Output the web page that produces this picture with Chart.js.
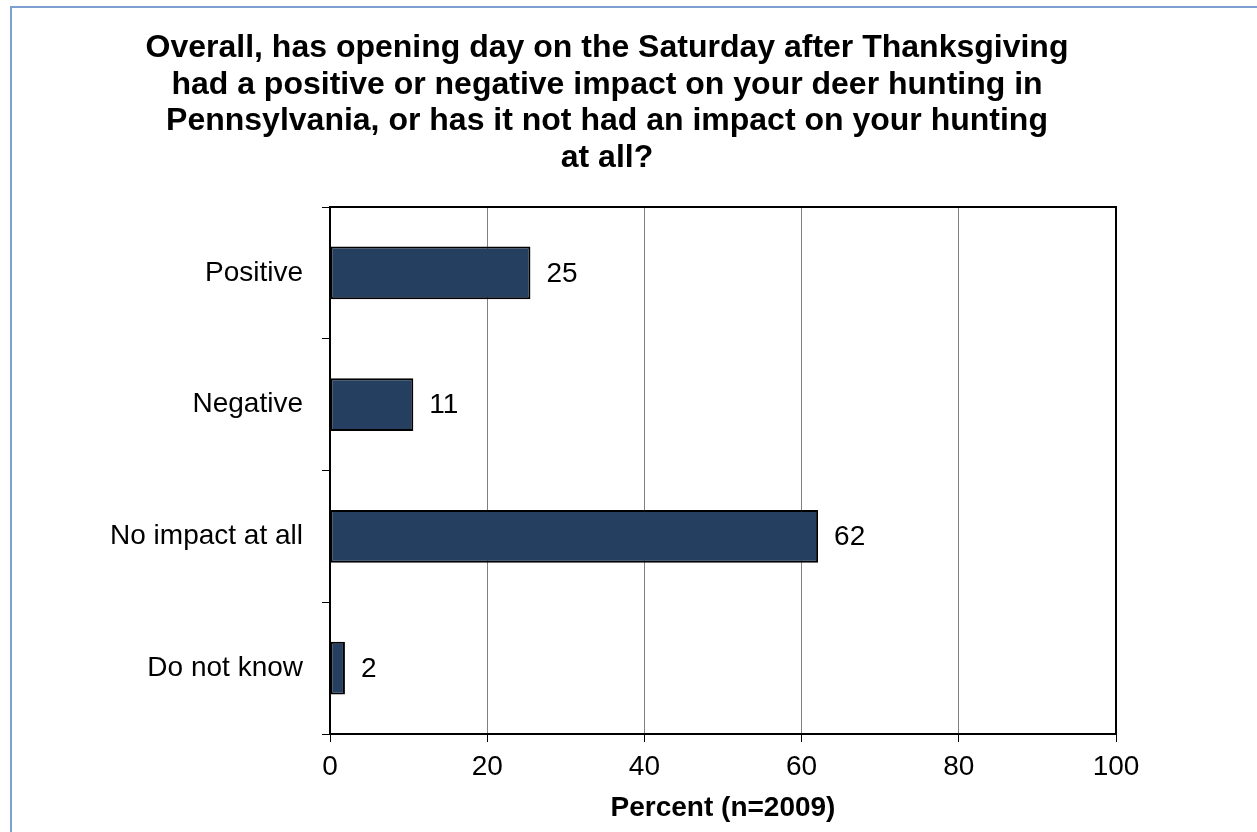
<!DOCTYPE html>
<html>
<head>
<meta charset="utf-8">
<script src="https://cdn.jsdelivr.net/npm/chart.js@4/dist/chart.umd.min.js"></script>
<style>
  html, body { margin: 0; padding: 0; background: #fff; }
  #wrap { width: 1257px; height: 832px; position: relative; }
</style>
</head>
<body>
<div id="wrap"><canvas id="chart" width="1257" height="832"></canvas></div>
<script>
// ——— data ———
const categories = ["Positive", "Negative", "No impact at all", "Do not know"];
const percents = [25.5, 10.6, 62.1, 1.9];
const valueLabels = ["25", "11", "62", "2"];
const xTicks = [0, 20, 40, 60, 80, 100];
const titleLines = [
  "Overall, has opening day on the Saturday after Thanksgiving",
  "had a positive or negative impact on your deer hunting in",
  "Pennsylvania, or has it not had an impact on your hunting",
  "at all?"
];
const xTitle = "Percent (n=2009)";

const FONT = "'Liberation Sans', Arial, sans-serif";

// outer frame (blue line top + left), plot box and value labels
const framePlugin = {
  id: "frame",
  beforeDraw(chart) {
    const ctx = chart.ctx;
    ctx.save();
    ctx.strokeStyle = "#7f9fd0";
    ctx.lineWidth = 2;
    ctx.beginPath();
    ctx.moveTo(11, 832);
    ctx.lineTo(11, 7);
    ctx.lineTo(1257, 7);
    ctx.stroke();
    ctx.restore();
  },
  afterDatasetsDraw(chart) {
    const { ctx, chartArea: a } = chart;
    ctx.save();
    ctx.strokeStyle = "#000";
    ctx.lineWidth = 2;
    ctx.strokeRect(a.left, a.top, a.right - a.left, a.bottom - a.top);
    ctx.fillStyle = "#000";
    ctx.font = "28px " + FONT;
    ctx.textBaseline = "middle";
    ctx.textAlign = "left";
    chart.getDatasetMeta(0).data.forEach((bar, i) => {
      ctx.fillText(valueLabels[i], bar.x + 16, bar.y + 1);
    });
    ctx.restore();
  }
};

new Chart(document.getElementById("chart"), {
  type: "bar",
  data: {
    labels: categories,
    datasets: [{
      data: percents,
      backgroundColor: "#243f60",
      borderColor: "#000",
      borderWidth: 2,
      borderSkipped: false,
      categoryPercentage: 1,
      barPercentage: 0.4
    }]
  },
  options: {
    indexAxis: "y",
    responsive: false,
    animation: false,
    layout: { padding: { left: 98, right: 141, top: 30, bottom: 7 } },
    plugins: {
      legend: { display: false },
      tooltip: { enabled: false },
      title: {
        display: true,
        text: titleLines,
        color: "#000",
        font: { family: FONT, size: 32, weight: "bold", lineHeight: "36.5px" },
        padding: { top: 0, bottom: 31 }
      }
    },
    scales: {
      x: {
        min: 0,
        max: 100,
        afterFit(scale) {
          scale.height = 91;
        },
        ticks: {
          stepSize: 20,
          color: "#000",
          font: { family: FONT, size: 28 },
          padding: 8
        },
        afterBuildTicks(scale) {
          scale.ticks = xTicks.map((v) => ({ value: v }));
        },
        grid: {
          color: "#808080",
          lineWidth: 1,
          tickColor: "#000",
          tickLength: 8
        },
        border: { color: "#000", width: 2 },
        title: {
          display: true,
          text: xTitle,
          color: "#000",
          font: { family: FONT, size: 28, weight: "bold" },
          padding: { top: 5, bottom: 0 }
        }
      },
      y: {
        afterFit(scale) {
          scale.width = 232;
        },
        ticks: {
          color: "#000",
          font: { family: FONT, size: 28 },
          padding: 19
        },
        grid: {
          drawOnChartArea: false,
          offset: true,
          tickColor: "#000",
          tickLength: 8
        },
        border: { color: "#000", width: 2 }
      }
    }
  },
  plugins: [framePlugin]
});
</script>
</body>
</html>
